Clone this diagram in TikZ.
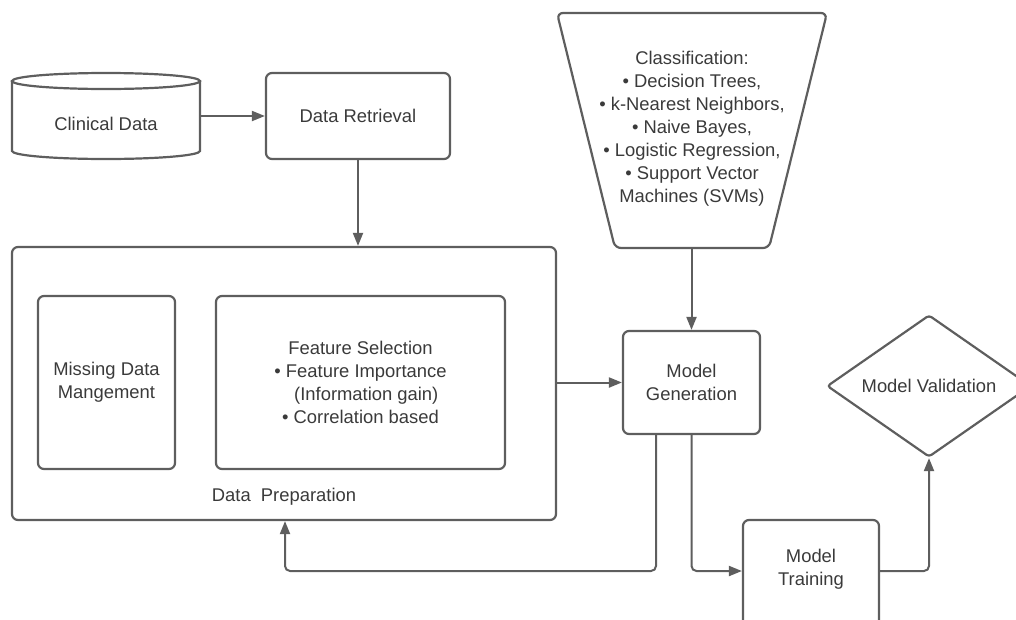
\documentclass[tikz,border=0pt]{standalone}
\usepackage{fontspec}
\setmainfont{Liberation Sans}
\usetikzlibrary{arrows.meta,shapes.geometric}
\definecolor{ink}{HTML}{3A3A3A}
\definecolor{edge}{HTML}{5E5E5E}
\begin{document}
\begin{tikzpicture}[x=1pt,y=-1pt,
  line/.style={draw=edge,line width=2.2pt},
  txt/.style={text=ink,font=\fontsize{18.4}{23}\selectfont,align=center,inner sep=0pt},
  box/.style={line,txt,rounded corners=6pt},
  arr/.style={draw=edge,line width=2pt,-{Triangle[length=13pt,width=10pt]}},
  ]
\useasboundingbox (0,0) rectangle (1016,619);
\clip (0,0) rectangle (1016,619);

% data store drawn as a cylinder
\draw[line] (12,81) -- (12,151) arc[start angle=180,end angle=0,x radius=94,y radius=8] -- (200,81);
\draw[line] (106,81) ellipse[x radius=94,y radius=8];
\node[minimum width=188pt,minimum height=86pt,inner sep=0pt] (clin) at (106,116) {};
\node[txt] (clintext) at (106,124) {Clinical Data};

\node[box,minimum width=184pt,minimum height=86pt] (ret) at (358,116) {Data Retrieval};
\draw[arr] (clin.east) -- (ret.west);

% preparation stage
\node[line,rounded corners=6pt,minimum width=544pt,minimum height=273pt] (prep) at (284,383.5) {};
\node[txt] (preplabel) at (284,497) {Data\ \ Preparation};
\draw[arr] (ret.south) -- (prep.north -| ret.south);

\node[box,minimum width=137pt,minimum height=173pt] (miss) at (106.5,382.5) {Missing Data\\Mangement};
\node[box,minimum width=289pt,minimum height=173pt] (feat) at (360.5,382.5)
  {Feature Selection\\• Feature Importance\\\hphantom{•}\ (Information gain)\\• Correlation based};

\node[box,minimum width=137pt,minimum height=103pt] (gen) at (691.5,382.5) {Model\\Generation};
\draw[arr] (prep.east |- gen.west) -- (gen.west);

% classifier funnel
\draw[line,rounded corners=6pt] (692,13) -- (827,13) -- (769,248) -- (615,248) -- (557,13) -- cycle;
\node[txt] (cls) at (692,129) {Classification:\\• Decision Trees,\\• k-Nearest Neighbors,\\• Naive Bayes,\\• Logistic Regression,\\• Support Vector\\Machines (SVMs)};
\coordinate (clsb) at (691.5,248);
\draw[arr] (clsb) -- (gen.north);

\node[line,txt,diamond,aspect=1.4,rounded corners=3pt,minimum width=204pt,minimum height=142pt] (val) at (929,386) {Model Validation};

% training box runs past the lower edge
\node[line,rounded corners=6pt,minimum width=136pt,minimum height=110pt] (train) at (811,575) {};
\node[txt] (trainlabel) at (811,569) {Model\\Training};

\coordinate (trainin) at (train.west |- 0,571);
\coordinate (trainout) at (train.east |- 0,571);
\draw[arr,rounded corners=5pt] (gen.south) |- (trainin);
\coordinate (loopL) at (285,571);
\draw[arr,rounded corners=5pt] ([xshift=-35.5pt]gen.south) |- (loopL) -- (loopL |- prep.south);
\draw[arr,rounded corners=5pt] (trainout) -| (val.south);
\end{tikzpicture}
\end{document}
